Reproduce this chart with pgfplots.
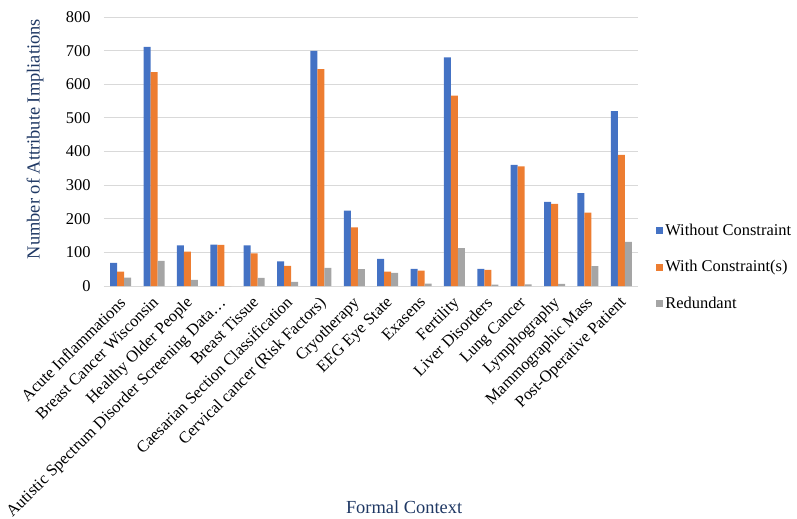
\documentclass[border=0pt]{standalone}
\usepackage{pgfplots}
\pgfplotsset{compat=1.18}
\usepackage{fontspec}
\setmainfont{Liberation Serif}

\definecolor{cBlue}{HTML}{4472C4}
\definecolor{cOrange}{HTML}{ED7D31}
\definecolor{cGray}{HTML}{A5A5A5}
\definecolor{cGrid}{HTML}{D9D9D9}
\definecolor{cTitle}{HTML}{1F3864}

% Number of attribute implications per formal context
\begin{document}
\begin{tikzpicture}
\path[use as bounding box] (-104bp,-233bp) rectangle (693bp,286bp);
\begin{axis}[
  at={(0,0)}, anchor=south west,
  scale only axis,
  width=534bp, height=269bp,
  ybar=0pt, bar width=7bp,
  xmin=-0.5, xmax=15.5,
  ymin=0, ymax=800,
  ytick={0,100,...,800},
  xtick={0,...,15},
  xticklabels={
    {Acute Inflammations},
    {Breast Cancer Wisconsin},
    {Healthy Older People},
    {Autistic Spectrum Disorder Screening Data…},
    {Breast Tissue},
    {Caesarian Section Classification},
    {Cervical cancer (Risk Factors)},
    {Cryotherapy},
    {EEG Eye State},
    {Exasens},
    {Fertility},
    {Liver Disorders},
    {Lung Cancer},
    {Lymphography},
    {Mammographic Mass},
    {Post-Operative Patient}},
  major tick length=0pt,
  axis line style={draw=none},
  ymajorgrids,
  grid style={cGrid, line width=0.9bp},
  /pgf/number format/assume math mode=true,
  tick label style={font=\fontsize{16.5}{19}\selectfont, text=black},
  yticklabel style={xshift=-10bp},
  xticklabel style={xshift=-2.5bp, yshift=-8bp, rotate=45, anchor=north east, inner sep=1bp},
  xlabel={Formal Context},
  ylabel={Number of Attribute Impliations},
  label style={font=\fontsize{18.5}{22}\selectfont, text=cTitle},
  xlabel style={at={(axis description cs:0.562,-0.822)}, anchor=center},
  ylabel style={at={(axis description cs:-0.129,0.546)}, anchor=center},
  legend style={at={(axis description cs:1.034,0.0706)}, anchor=west,
    draw=none, fill=none, font=\fontsize{16.5}{19}\selectfont,
    row sep=20bp, inner sep=0pt, cells={anchor=west}},
  legend cell align=left,
  legend image code/.code={\fill[#1] (-3bp,-3.5bp) rectangle (4bp,3.5bp);},
]
\addplot[fill=cBlue, draw=none] coordinates {
  (0,69) (1,711) (2,121) (3,123) (4,121) (5,73) (6,699) (7,224)
  (8,81) (9,51) (10,680) (11,51) (12,360) (13,250) (14,276) (15,520)};
\addplot[fill=cOrange, draw=none] coordinates {
  (0,43) (1,636) (2,102) (3,122) (4,97) (5,60) (6,645) (7,174)
  (8,43) (9,46) (10,566) (11,48) (12,356) (13,244) (14,218) (15,390)};
\addplot[fill=cGray, draw=none] coordinates {
  (0,25) (1,75) (2,18) (3,0) (4,24) (5,12) (6,54) (7,50)
  (8,39) (9,7) (10,113) (11,4) (12,5) (13,6) (14,59) (15,131)};
\legend{Without Constraint, With Constraint(s), Redundant}
\end{axis}
\end{tikzpicture}
\end{document}
